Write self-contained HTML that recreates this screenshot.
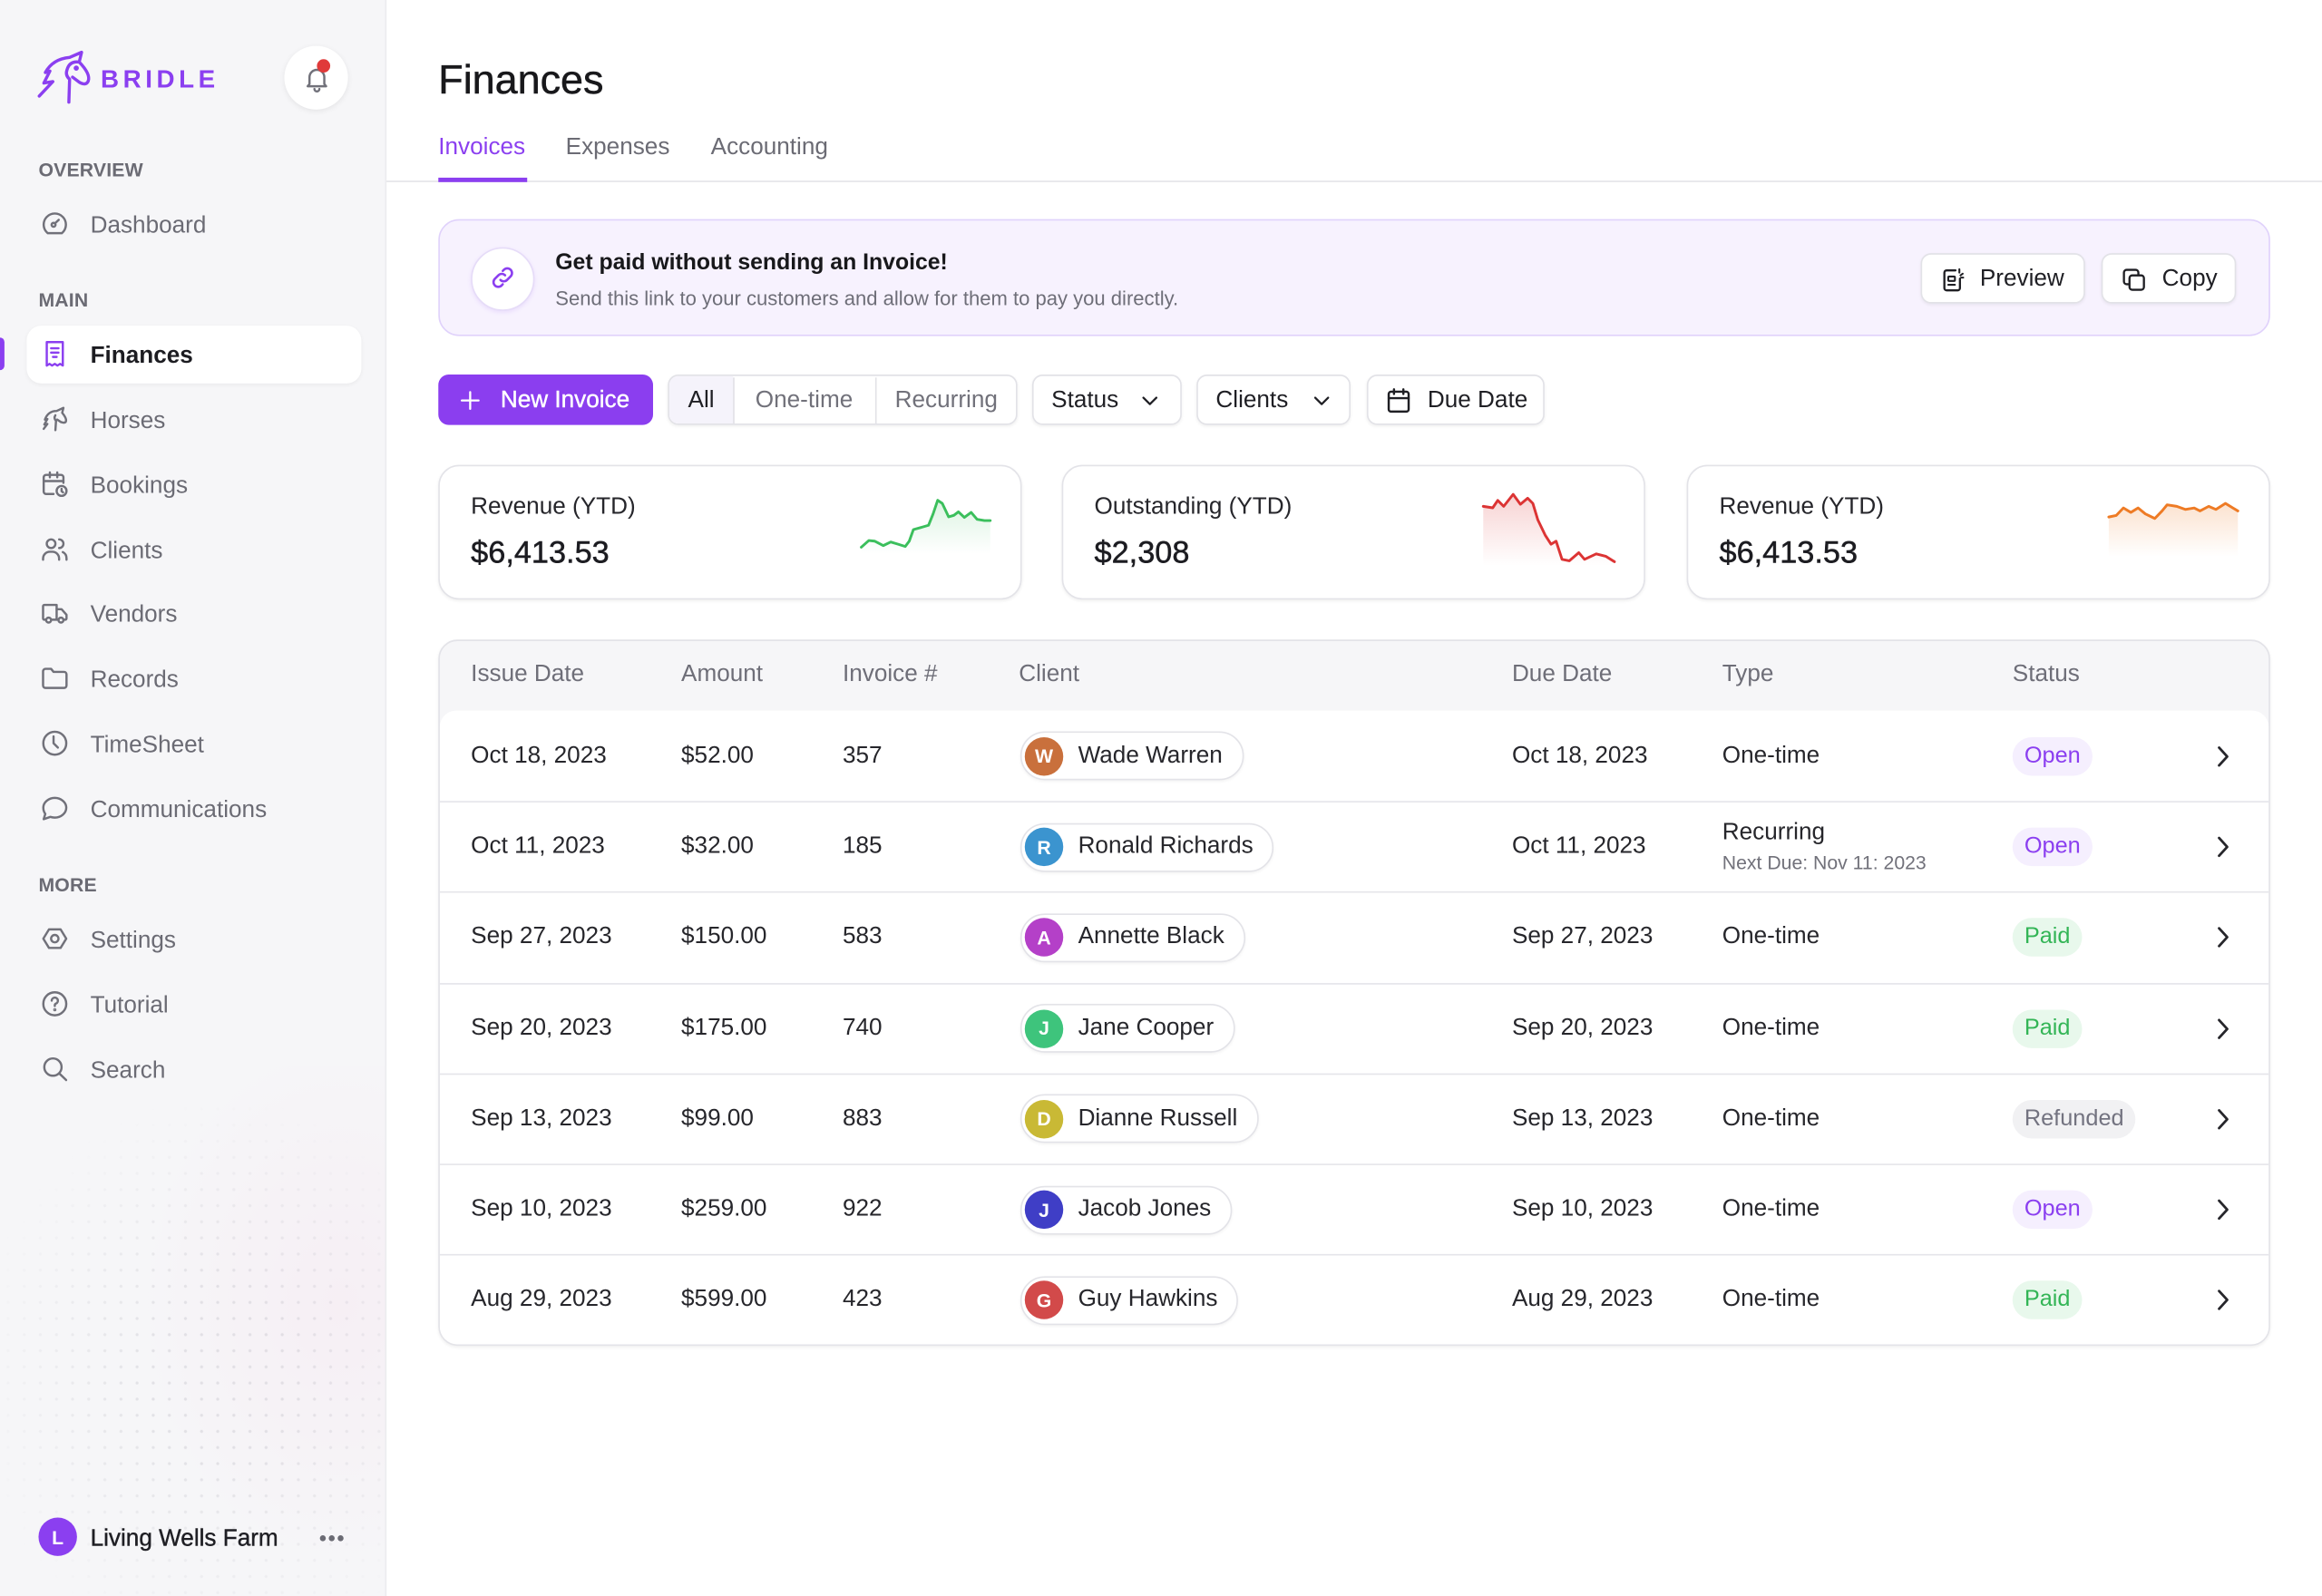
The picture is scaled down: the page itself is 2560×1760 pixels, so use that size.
<!DOCTYPE html>
<html>
<head>
<meta charset="utf-8">
<style>
html,body{margin:0;padding:0;}
body{width:2560px;height:1760px;overflow:hidden;background:#fff;}
#root{position:absolute;left:0;top:0;width:1568px;height:1078px;transform:scale(1.632653);transform-origin:0 0;font-family:"Liberation Sans",Arial,sans-serif;color:#1c1c21;overflow:hidden;background:#fff;}
.a{position:absolute;}
.t{position:absolute;white-space:nowrap;line-height:20px;margin-top:1.5px;}
.side{position:absolute;left:0;top:0;width:261px;height:1078px;background:#f6f6f8;border-right:1px solid #ececef;box-sizing:border-box;overflow:hidden;}
.dots{position:absolute;left:0;top:700px;width:261px;height:378px;background-image:radial-gradient(circle,rgba(120,120,135,0.16) 0.75px,transparent 1.25px);background-size:10.9px 10.9px;-webkit-mask-image:radial-gradient(ellipse 170px 190px at 150px 230px,#000 30%,transparent 100%);mask-image:radial-gradient(ellipse 170px 190px at 150px 230px,#000 30%,transparent 100%);}
.tint{position:absolute;left:0;top:720px;width:261px;height:358px;background:radial-gradient(ellipse 200px 260px at 230px 160px,rgba(245,230,240,0.45),transparent 70%);}
.nav{font-size:16px;color:#6b6b74;left:61px;}
.sec{font-size:13px;font-weight:bold;color:#6b6b74;left:26px;letter-spacing:0.1px;}
.ic{position:absolute;left:27px;width:20px;height:20px;}
.ic path,.ic circle,.ic rect,.ic polygon{fill:none;stroke:#71717a;stroke-width:1.8;stroke-linecap:round;stroke-linejoin:round;}
.btn{position:absolute;height:34px;box-sizing:border-box;border:1px solid #e2e2e7;border-radius:7px;background:#fff;box-shadow:0 1px 2px rgba(0,0,0,0.06);display:flex;align-items:center;font-size:16px;color:#1f1f24;white-space:nowrap;padding-top:1px;}
.card{position:absolute;top:314px;height:91px;width:394px;box-sizing:border-box;border:1px solid #e3e3e8;border-radius:14px;background:#fff;box-shadow:0 1px 2px rgba(0,0,0,0.06);}
.card .l{position:absolute;left:21px;top:18px;font-size:16px;color:#26262b;line-height:20px;white-space:nowrap;}
.card .v{position:absolute;left:21px;top:47px;font-size:21px;color:#1c1c21;line-height:24px;white-space:nowrap;-webkit-text-stroke:0.3px #1c1c21;}
.tbl{position:absolute;left:296px;top:432px;width:1237px;height:477px;box-sizing:border-box;border:1px solid #e3e3e8;border-radius:13px;background:#f6f6f8;box-shadow:0 1px 2px rgba(0,0,0,0.06);overflow:hidden;}
.th{position:absolute;top:13px;font-size:16px;color:#6e6e78;line-height:20px;white-space:nowrap;}
.body{position:absolute;left:0;top:47px;width:1235px;height:429px;background:#fff;border-radius:11px 11px 0 0;}
.row{position:absolute;left:0;width:1235px;height:61.2px;box-sizing:border-box;}
.row+.row{border-top:1px solid #e5e5ea;}
.c{position:absolute;top:0;height:100%;display:flex;align-items:center;font-size:16px;color:#26262b;white-space:nowrap;}
.pill{display:inline-flex;align-items:center;height:33px;box-sizing:border-box;border:1px solid #e3e3e8;border-radius:17px;padding:0 13px 0 2px;background:#fff;box-shadow:0 1px 2px rgba(0,0,0,0.05);}
.av{width:26px;height:26px;border-radius:13px;color:#fff;font-size:13px;font-weight:bold;display:flex;align-items:center;justify-content:center;margin-right:10px;}
.badge{display:inline-flex;align-items:center;height:26px;padding:0 8px;border-radius:13px;font-size:15.5px;}
.open{background:#f5effe;color:#8b3ff0;}
.paid{background:#e8f8ec;color:#33b556;}
.ref{background:#f1f1f3;color:#737380;}
</style>
</head>
<body>
<div id="root">

<!-- SIDEBAR -->
<div class="side">
  <div class="tint"></div>
  <div class="dots"></div>
</div>

<div class="t" style="left:68px;top:42px;font-size:17px;font-weight:bold;color:#8b3ff0;letter-spacing:2.8px;">BRIDLE</div>

<div class="a" style="left:192px;top:31px;width:43px;height:43px;border-radius:50%;background:#fff;box-shadow:0 1px 4px rgba(0,0,0,0.08);"></div>
<svg class="a" style="left:203.5px;top:42.5px;" width="20" height="20" viewBox="0 0 24 24"><path d="M6 16.5V11a6 6 0 0 1 12 0v5.5l1.5 1.8h-15z" fill="none" stroke="#71717a" stroke-width="1.8" stroke-linejoin="round"/><path d="M10 20.5a2 2 0 0 0 4 0" fill="none" stroke="#71717a" stroke-width="1.8" stroke-linecap="round"/></svg>
<div class="a" style="left:214.2px;top:40px;width:9px;height:9px;border-radius:50%;background:#e03a3a;"></div>

<div class="t sec" style="top:103px;">OVERVIEW</div>
<svg class="ic" style="top:141px;" viewBox="0 0 24 24"><path d="M6.3 19.8A9 9 0 1 1 17.7 19.8Z"/><circle cx="11" cy="13" r="1.6"/><path d="M12.2 11.8l3-2.8"/></svg>
<div class="t nav" style="top:141px;">Dashboard</div>

<div class="t sec" style="top:191px;">MAIN</div>
<div class="a" style="left:18px;top:220px;width:226px;height:39px;border-radius:10px;background:#fff;box-shadow:0 1px 3px rgba(0,0,0,0.05);"></div>
<div class="a" style="left:0;top:228px;width:3px;height:22px;border-radius:0 3px 3px 0;background:#8b3ff0;"></div>
<svg class="ic" style="top:229px;" viewBox="0 0 24 24"><path style="stroke:#8b3ff0" d="M5.5 2.5h13v19l-2.2-1.4-2.2 1.4-2.1-1.4-2.2 1.4-2.1-1.4-2.2 1.4z"/><path style="stroke:#8b3ff0" d="M9 7.5h6M9 11h6M10.5 14.5h3"/></svg>
<div class="t nav" style="top:229px;color:#1c1c21;font-weight:bold;">Finances</div>

<svg class="ic" style="top:273px;" viewBox="0 0 24 24"><path d="M3 20l3-4-2.5.5L6 12l-2 .5C6 7 10 5.5 13.5 5.5L19 3l-1 4c2.5 3 3.5 5.5 3 7-.5 1.5-2.5 1-4 .5l-3-2"/><path d="M12.5 9c-1 1.5-1 3 .5 4.5L12.5 21"/></svg>
<div class="t nav" style="top:273px;">Horses</div>

<svg class="ic" style="top:317px;" viewBox="0 0 24 24"><path d="M11 20H5a2 2 0 0 1-2-2V6.5a2 2 0 0 1 2-2h12a2 2 0 0 1 2 2V11"/><path d="M3 9.5h16M8 2.5v4M14 2.5v4"/><circle cx="17.5" cy="17.5" r="4"/><path d="M17.5 15.8v1.9l1.2 1"/></svg>
<div class="t nav" style="top:317px;">Bookings</div>

<svg class="ic" style="top:361px;" viewBox="0 0 24 24"><circle cx="9" cy="7.5" r="3.5"/><path d="M2.5 20.5v-1a5.5 5.5 0 0 1 5.5-5.5h2a5.5 5.5 0 0 1 5.5 5.5v1"/><path d="M15.5 4a3.5 3.5 0 0 1 0 7"/><path d="M18.5 14.3a5.5 5.5 0 0 1 3 5v1.2"/></svg>
<div class="t nav" style="top:361px;">Clients</div>

<svg class="ic" style="top:404px;" viewBox="0 0 24 24"><path d="M5 17.5H3.5a1 1 0 0 1-1-1v-10a1 1 0 0 1 1-1h10v12h-4"/><path d="M13.5 9h4l4 4.5v3a1 1 0 0 1-1 1h-1"/><circle cx="7" cy="17.8" r="2"/><circle cx="17" cy="17.8" r="2"/><path d="M13.5 17.5h1.5"/></svg>
<div class="t nav" style="top:404px;">Vendors</div>

<svg class="ic" style="top:448px;" viewBox="0 0 24 24"><path d="M2.5 6.5a2 2 0 0 1 2-2h4.5l2 2.5h8.5a2 2 0 0 1 2 2V18a2 2 0 0 1-2 2h-15a2 2 0 0 1-2-2z"/></svg>
<div class="t nav" style="top:448px;">Records</div>

<svg class="ic" style="top:492px;" viewBox="0 0 24 24"><circle cx="12" cy="12" r="9.3"/><path d="M11 6.5V12l3.5 3.5"/></svg>
<div class="t nav" style="top:492px;">TimeSheet</div>

<svg class="ic" style="top:536px;" viewBox="0 0 24 24"><path d="M12 3.5c5 0 9.3 3.6 9.3 8s-4.3 8-9.3 8c-1.3 0-2.5-.2-3.6-.6L3 20.8l1.3-4.3C3.3 15.1 2.7 13.4 2.7 11.5c0-4.4 4.3-8 9.3-8z"/></svg>
<div class="t nav" style="top:536px;">Communications</div>

<div class="t sec" style="top:586px;">MORE</div>
<svg class="ic" style="top:624px;" viewBox="0 0 24 24"><path d="M7.3 4.5h9.4l4.6 7.5-4.6 7.5H7.3L2.7 12z"/><circle cx="12" cy="12" r="3"/></svg>
<div class="t nav" style="top:624px;">Settings</div>

<svg class="ic" style="top:668px;" viewBox="0 0 24 24"><circle cx="12" cy="12" r="9.3"/><path d="M9.5 9.5a2.5 2.5 0 1 1 3.5 2.3c-.7.3-1 .8-1 1.5v.5"/><circle cx="12" cy="16.8" r="0.4" style="fill:#71717a"/></svg>
<div class="t nav" style="top:668px;">Tutorial</div>

<svg class="ic" style="top:712px;" viewBox="0 0 24 24"><circle cx="10.5" cy="10.5" r="7"/><path d="M15.7 15.7l5.5 5.3"/></svg>
<div class="t nav" style="top:712px;">Search</div>

<div class="a" style="left:26px;top:1025px;width:26px;height:26px;border-radius:50%;background:#8b3ff0;color:#fff;font-size:13px;font-weight:bold;display:flex;align-items:center;justify-content:center;">L</div>
<div class="t" style="left:61px;top:1028px;font-size:16px;color:#1f1f24;-webkit-text-stroke:0.25px #1f1f24;">Living Wells Farm</div>
<div class="a" style="left:216px;top:1036.5px;width:4px;height:4px;border-radius:50%;background:#6b6b74;"></div>
<div class="a" style="left:222px;top:1036.5px;width:4px;height:4px;border-radius:50%;background:#6b6b74;"></div>
<div class="a" style="left:228px;top:1036.5px;width:4px;height:4px;border-radius:50%;background:#6b6b74;"></div>

<!-- HEADER -->
<div class="t" style="left:296px;top:37px;font-size:27.5px;line-height:30px;color:#18181b;-webkit-text-stroke:0.3px #18181b;">Finances</div>
<div class="t" style="left:296px;top:88px;font-size:16px;color:#8b3ff0;">Invoices</div>
<div class="t" style="left:382px;top:88px;font-size:16px;color:#6b6b74;">Expenses</div>
<div class="t" style="left:480px;top:88px;font-size:16px;color:#6b6b74;">Accounting</div>
<div class="a" style="left:261px;top:122px;width:1307px;height:1px;background:#e4e4e8;"></div>
<div class="a" style="left:296px;top:120px;width:60px;height:2.5px;background:#8b3ff0;"></div>

<!-- BANNER -->
<div class="a" style="left:296px;top:148px;width:1237px;height:79px;box-sizing:border-box;border:1.5px solid #e0d2fb;border-radius:14px;background:#f7f2fe;"></div>
<div class="a" style="left:318px;top:166.5px;width:43px;height:43px;box-sizing:border-box;border-radius:50%;background:#fff;border:1px solid #e6dcf8;box-shadow:0 1px 3px rgba(139,63,240,0.12);"></div>
<svg class="a" style="left:330px;top:178px;" width="19" height="19" viewBox="0 0 24 24"><path d="M10 14a4 4 0 0 0 5.7 0l3-3a4 4 0 0 0-5.7-5.7l-1 1" fill="none" stroke="#8b3ff0" stroke-width="2" stroke-linecap="round"/><path d="M14 10a4 4 0 0 0-5.7 0l-3 3a4 4 0 0 0 5.7 5.7l1-1" fill="none" stroke="#8b3ff0" stroke-width="2" stroke-linecap="round"/></svg>
<div class="t" style="left:375px;top:166px;font-size:15.2px;font-weight:bold;color:#18181b;">Get paid without sending an Invoice!</div>
<div class="t" style="left:375px;top:190px;font-size:13.5px;color:#6e6e78;">Send this link to your customers and allow for them to pay you directly.</div>

<div class="btn" style="left:1297px;top:171px;width:111px;">
  <svg style="margin-left:12px;margin-right:9px;" width="18" height="18" viewBox="0 0 24 24"><path d="M14 3.5H6a2 2 0 0 0-2 2v14a2 2 0 0 0 2 2h10a2 2 0 0 0 2-2V11" fill="none" stroke="#1f1f24" stroke-width="1.9" stroke-linecap="round"/><rect x="7.5" y="9" width="6" height="4" rx="0.8" fill="none" stroke="#1f1f24" stroke-width="1.7"/><path d="M7.5 16.5h6M17.5 2.5v3M20.5 6.5l-2 1.5M21 10h-2" fill="none" stroke="#1f1f24" stroke-width="1.7" stroke-linecap="round"/></svg>Preview</div>
<div class="btn" style="left:1419px;top:171px;width:91px;">
  <svg style="margin-left:12px;margin-right:10px;" width="18" height="18" viewBox="0 0 24 24"><rect x="8" y="8" width="13" height="13" rx="2.5" fill="none" stroke="#1f1f24" stroke-width="1.9"/><path d="M16 8V5.5A2.5 2.5 0 0 0 13.5 3h-8A2.5 2.5 0 0 0 3 5.5v8A2.5 2.5 0 0 0 5.5 16H8" fill="none" stroke="#1f1f24" stroke-width="1.9"/></svg>Copy</div>

<!-- FILTERS -->
<div class="a" style="left:296px;top:253px;width:145px;height:34px;border-radius:7px;background:#8b3eef;display:flex;align-items:center;color:#fff;font-size:16px;white-space:nowrap;padding-top:1px;box-sizing:border-box;">
  <svg style="margin-left:13px;margin-right:12px;" width="17" height="17" viewBox="0 0 24 24"><path d="M12 4v16M4 12h16" stroke="#fff" stroke-width="2" stroke-linecap="round" fill="none"/></svg><span style="-webkit-text-stroke:0.25px #fff;">New Invoice</span></div>

<div class="a" style="left:451px;top:253px;width:236px;height:34px;box-sizing:border-box;border:1px solid #e2e2e7;border-radius:7px;background:#fff;box-shadow:0 1px 2px rgba(0,0,0,0.06);overflow:hidden;">
  <div class="a" style="left:0;top:1px;width:43px;height:32px;background:#f5f3fb;border-right:1px solid #e2e2e7;display:flex;align-items:center;justify-content:center;font-size:16px;color:#1f1f24;">All</div>
  <div class="a" style="left:0;top:0;width:43px;height:1px;background:#f5f3fb;"></div>
  <div class="a" style="left:43px;top:1px;width:96px;height:32px;border-right:1px solid #e2e2e7;display:flex;align-items:center;justify-content:center;font-size:16px;color:#71717a;">One-time</div>
  <div class="a" style="left:139px;top:1px;width:96px;height:32px;display:flex;align-items:center;justify-content:center;font-size:16px;color:#71717a;">Recurring</div>
</div>

<div class="btn" style="left:697px;top:253px;width:101px;"><span style="margin-left:12px;">Status</span>
  <svg style="margin-left:14px;" width="15" height="15" viewBox="0 0 24 24"><path d="M5 9l7 7 7-7" fill="none" stroke="#1f1f24" stroke-width="2.2" stroke-linecap="round" stroke-linejoin="round"/></svg></div>
<div class="btn" style="left:808px;top:253px;width:104px;"><span style="margin-left:12px;">Clients</span>
  <svg style="margin-left:15px;" width="15" height="15" viewBox="0 0 24 24"><path d="M5 9l7 7 7-7" fill="none" stroke="#1f1f24" stroke-width="2.2" stroke-linecap="round" stroke-linejoin="round"/></svg></div>
<div class="btn" style="left:923px;top:253px;width:120px;">
  <svg style="margin-left:11px;margin-right:10px;" width="19" height="19" viewBox="0 0 24 24"><rect x="3.5" y="4.5" width="17" height="17" rx="2" fill="none" stroke="#1f1f24" stroke-width="1.9"/><path d="M3.5 10h17M8 2.5v4M16 2.5v4" fill="none" stroke="#1f1f24" stroke-width="1.9" stroke-linecap="round"/></svg>Due Date</div>

<!-- CARDS -->
<div class="card" style="left:296px;"><div class="l">Revenue (YTD)</div><div class="v">$6,413.53</div></div>
<div class="card" style="left:717px;"><div class="l">Outstanding (YTD)</div><div class="v">$2,308</div></div>
<div class="card" style="left:1139px;"><div class="l">Revenue (YTD)</div><div class="v">$6,413.53</div></div>

<svg class="a" style="left:0;top:0;pointer-events:none;" width="1568" height="1078" viewBox="0 0 1568 1078">
  <defs>
    <linearGradient id="gg" x1="0" y1="0" x2="0" y2="1"><stop offset="0" stop-color="#3bbf5c" stop-opacity="0.18"/><stop offset="1" stop-color="#3bbf5c" stop-opacity="0"/></linearGradient>
    <linearGradient id="gr" x1="0" y1="0" x2="0" y2="1"><stop offset="0" stop-color="#dc3434" stop-opacity="0.22"/><stop offset="1" stop-color="#dc3434" stop-opacity="0"/></linearGradient>
    <linearGradient id="go" x1="0" y1="0" x2="0" y2="1"><stop offset="0" stop-color="#ee7b25" stop-opacity="0.22"/><stop offset="1" stop-color="#ee7b25" stop-opacity="0"/></linearGradient>
  </defs>
  <!-- logo horse -->
  <g fill="none" stroke="#8b3ff0" stroke-width="2.1" stroke-linecap="round" stroke-linejoin="round">
    <path d="M26.5 64.9L35.7 55.1L29.6 56.1L33.7 48L30.6 49Q35.7 39.8 47 38.8L55.1 35.3L53.5 41.9Q61.3 50 59.6 54.7Q58.2 58.2 53.5 55.5L49 52.1"/>
    <path d="M53.5 41.9Q47 41 45.3 47Q43.9 51 47 53.5L46.5 69"/>
    <circle cx="51.5" cy="46" r="0.7" fill="#8b3ff0"/>
  </g>
  <!-- green -->
  <path d="M581.6 369.6L586.7 365.1L590.6 365.5L596.5 368.5L601.5 366.1L606.2 367.5L611.3 369.1L614 365.5L616.8 357.7L621.9 356.3L627 354.8L630.1 347.1L633.2 337.9L636.3 340L640.6 349.1L644.1 348.1L647.2 345.7L651.2 349.5L655.8 346.1L659.8 350.8L664.8 351.6L668.7 351.6L668.7 374L581.6 374Z" fill="url(#gg)"/>
  <path d="M581.6 369.6L586.7 365.1L590.6 365.5L596.5 368.5L601.5 366.1L606.2 367.5L611.3 369.1L614 365.5L616.8 357.7L621.9 356.3L627 354.8L630.1 347.1L633.2 337.9L636.3 340L640.6 349.1L644.1 348.1L647.2 345.7L651.2 349.5L655.8 346.1L659.8 350.8L664.8 351.6L668.7 351.6" fill="none" stroke="#3bbf5c" stroke-width="1.8" stroke-linejoin="round" stroke-linecap="round"/>
  <!-- red -->
  <path d="M1001.6 342L1008 343L1011.4 338L1015.4 342L1021.8 333.9L1026.7 340.6L1031.6 336.5L1035.1 340L1038.5 351.2L1043.4 361.4L1047.4 367.6L1050.8 365.5L1054.8 377.8L1059.7 378.8L1066.1 373.3L1070 377.8L1077.9 374.1L1084.3 375.7L1090.2 379.4L1090.2 382L1001.6 382Z" fill="url(#gr)"/>
  <path d="M1001.6 342L1008 343L1011.4 338L1015.4 342L1021.8 333.9L1026.7 340.6L1031.6 336.5L1035.1 340L1038.5 351.2L1043.4 361.4L1047.4 367.6L1050.8 365.5L1054.8 377.8L1059.7 378.8L1066.1 373.3L1070 377.8L1077.9 374.1L1084.3 375.7L1090.2 379.4" fill="none" stroke="#dc3434" stroke-width="1.8" stroke-linejoin="round" stroke-linecap="round"/>
  <!-- orange -->
  <path d="M1424 349.2L1429 348.2L1433.9 343.1L1438.9 346.1L1443.8 343.1L1448.7 347.1L1455.1 350.2L1460 345.1L1463.4 341L1469.9 342L1475.7 344.1L1481.7 343.1L1485.6 345.1L1491.5 342L1496.4 344.1L1502.8 340L1507.8 343.1L1511.2 345.1L1511.2 376L1424 376Z" fill="url(#go)"/>
  <path d="M1424 349.2L1429 348.2L1433.9 343.1L1438.9 346.1L1443.8 343.1L1448.7 347.1L1455.1 350.2L1460 345.1L1463.4 341L1469.9 342L1475.7 344.1L1481.7 343.1L1485.6 345.1L1491.5 342L1496.4 344.1L1502.8 340L1507.8 343.1L1511.2 345.1" fill="none" stroke="#ee7b25" stroke-width="1.8" stroke-linejoin="round" stroke-linecap="round"/>
</svg>

<!-- TABLE -->
<div class="tbl">
  <div class="th" style="left:21px;">Issue Date</div>
  <div class="th" style="left:163px;">Amount</div>
  <div class="th" style="left:272px;">Invoice #</div>
  <div class="th" style="left:391px;">Client</div>
  <div class="th" style="left:724px;">Due Date</div>
  <div class="th" style="left:866px;">Type</div>
  <div class="th" style="left:1062px;">Status</div>
  <div class="body">
    <div class="row" style="top:0;">
      <div class="c" style="left:21px;">Oct 18, 2023</div><div class="c" style="left:163px;">$52.00</div><div class="c" style="left:272px;">357</div>
      <div class="c" style="left:392px;"><span class="pill"><span class="av" style="background:#c9703c;">W</span>Wade Warren</span></div>
      <div class="c" style="left:724px;">Oct 18, 2023</div><div class="c" style="left:866px;">One-time</div>
      <div class="c" style="left:1062px;"><span class="badge open">Open</span></div>
      <div class="c" style="left:1199px;"><svg width="10" height="16" viewBox="0 0 10 16"><path d="M2.5 2l5.5 6-5.5 6" fill="none" stroke="#26262b" stroke-width="1.7" stroke-linecap="round" stroke-linejoin="round"/></svg></div>
    </div>
    <div class="row" style="top:61.2px;">
      <div class="c" style="left:21px;">Oct 11, 2023</div><div class="c" style="left:163px;">$32.00</div><div class="c" style="left:272px;">185</div>
      <div class="c" style="left:392px;"><span class="pill"><span class="av" style="background:#3b94cf;">R</span>Ronald Richards</span></div>
      <div class="c" style="left:724px;">Oct 11, 2023</div>
      <div class="c" style="left:866px;"><div><div style="line-height:20px;">Recurring</div><div style="font-size:13px;color:#71717a;line-height:18px;margin-top:1px;">Next Due: Nov 11: 2023</div></div></div>
      <div class="c" style="left:1062px;"><span class="badge open">Open</span></div>
      <div class="c" style="left:1199px;"><svg width="10" height="16" viewBox="0 0 10 16"><path d="M2.5 2l5.5 6-5.5 6" fill="none" stroke="#26262b" stroke-width="1.7" stroke-linecap="round" stroke-linejoin="round"/></svg></div>
    </div>
    <div class="row" style="top:122.4px;">
      <div class="c" style="left:21px;">Sep 27, 2023</div><div class="c" style="left:163px;">$150.00</div><div class="c" style="left:272px;">583</div>
      <div class="c" style="left:392px;"><span class="pill"><span class="av" style="background:#b440c8;">A</span>Annette Black</span></div>
      <div class="c" style="left:724px;">Sep 27, 2023</div><div class="c" style="left:866px;">One-time</div>
      <div class="c" style="left:1062px;"><span class="badge paid">Paid</span></div>
      <div class="c" style="left:1199px;"><svg width="10" height="16" viewBox="0 0 10 16"><path d="M2.5 2l5.5 6-5.5 6" fill="none" stroke="#26262b" stroke-width="1.7" stroke-linecap="round" stroke-linejoin="round"/></svg></div>
    </div>
    <div class="row" style="top:183.6px;">
      <div class="c" style="left:21px;">Sep 20, 2023</div><div class="c" style="left:163px;">$175.00</div><div class="c" style="left:272px;">740</div>
      <div class="c" style="left:392px;"><span class="pill"><span class="av" style="background:#3ec47c;">J</span>Jane Cooper</span></div>
      <div class="c" style="left:724px;">Sep 20, 2023</div><div class="c" style="left:866px;">One-time</div>
      <div class="c" style="left:1062px;"><span class="badge paid">Paid</span></div>
      <div class="c" style="left:1199px;"><svg width="10" height="16" viewBox="0 0 10 16"><path d="M2.5 2l5.5 6-5.5 6" fill="none" stroke="#26262b" stroke-width="1.7" stroke-linecap="round" stroke-linejoin="round"/></svg></div>
    </div>
    <div class="row" style="top:244.8px;">
      <div class="c" style="left:21px;">Sep 13, 2023</div><div class="c" style="left:163px;">$99.00</div><div class="c" style="left:272px;">883</div>
      <div class="c" style="left:392px;"><span class="pill"><span class="av" style="background:#c9b935;">D</span>Dianne Russell</span></div>
      <div class="c" style="left:724px;">Sep 13, 2023</div><div class="c" style="left:866px;">One-time</div>
      <div class="c" style="left:1062px;"><span class="badge ref">Refunded</span></div>
      <div class="c" style="left:1199px;"><svg width="10" height="16" viewBox="0 0 10 16"><path d="M2.5 2l5.5 6-5.5 6" fill="none" stroke="#26262b" stroke-width="1.7" stroke-linecap="round" stroke-linejoin="round"/></svg></div>
    </div>
    <div class="row" style="top:306px;">
      <div class="c" style="left:21px;">Sep 10, 2023</div><div class="c" style="left:163px;">$259.00</div><div class="c" style="left:272px;">922</div>
      <div class="c" style="left:392px;"><span class="pill"><span class="av" style="background:#3f3ec6;">J</span>Jacob Jones</span></div>
      <div class="c" style="left:724px;">Sep 10, 2023</div><div class="c" style="left:866px;">One-time</div>
      <div class="c" style="left:1062px;"><span class="badge open">Open</span></div>
      <div class="c" style="left:1199px;"><svg width="10" height="16" viewBox="0 0 10 16"><path d="M2.5 2l5.5 6-5.5 6" fill="none" stroke="#26262b" stroke-width="1.7" stroke-linecap="round" stroke-linejoin="round"/></svg></div>
    </div>
    <div class="row" style="top:367.2px;">
      <div class="c" style="left:21px;">Aug 29, 2023</div><div class="c" style="left:163px;">$599.00</div><div class="c" style="left:272px;">423</div>
      <div class="c" style="left:392px;"><span class="pill"><span class="av" style="background:#d24a4a;">G</span>Guy Hawkins</span></div>
      <div class="c" style="left:724px;">Aug 29, 2023</div><div class="c" style="left:866px;">One-time</div>
      <div class="c" style="left:1062px;"><span class="badge paid">Paid</span></div>
      <div class="c" style="left:1199px;"><svg width="10" height="16" viewBox="0 0 10 16"><path d="M2.5 2l5.5 6-5.5 6" fill="none" stroke="#26262b" stroke-width="1.7" stroke-linecap="round" stroke-linejoin="round"/></svg></div>
    </div>
  </div>
</div>

</div>
</body>
</html>
